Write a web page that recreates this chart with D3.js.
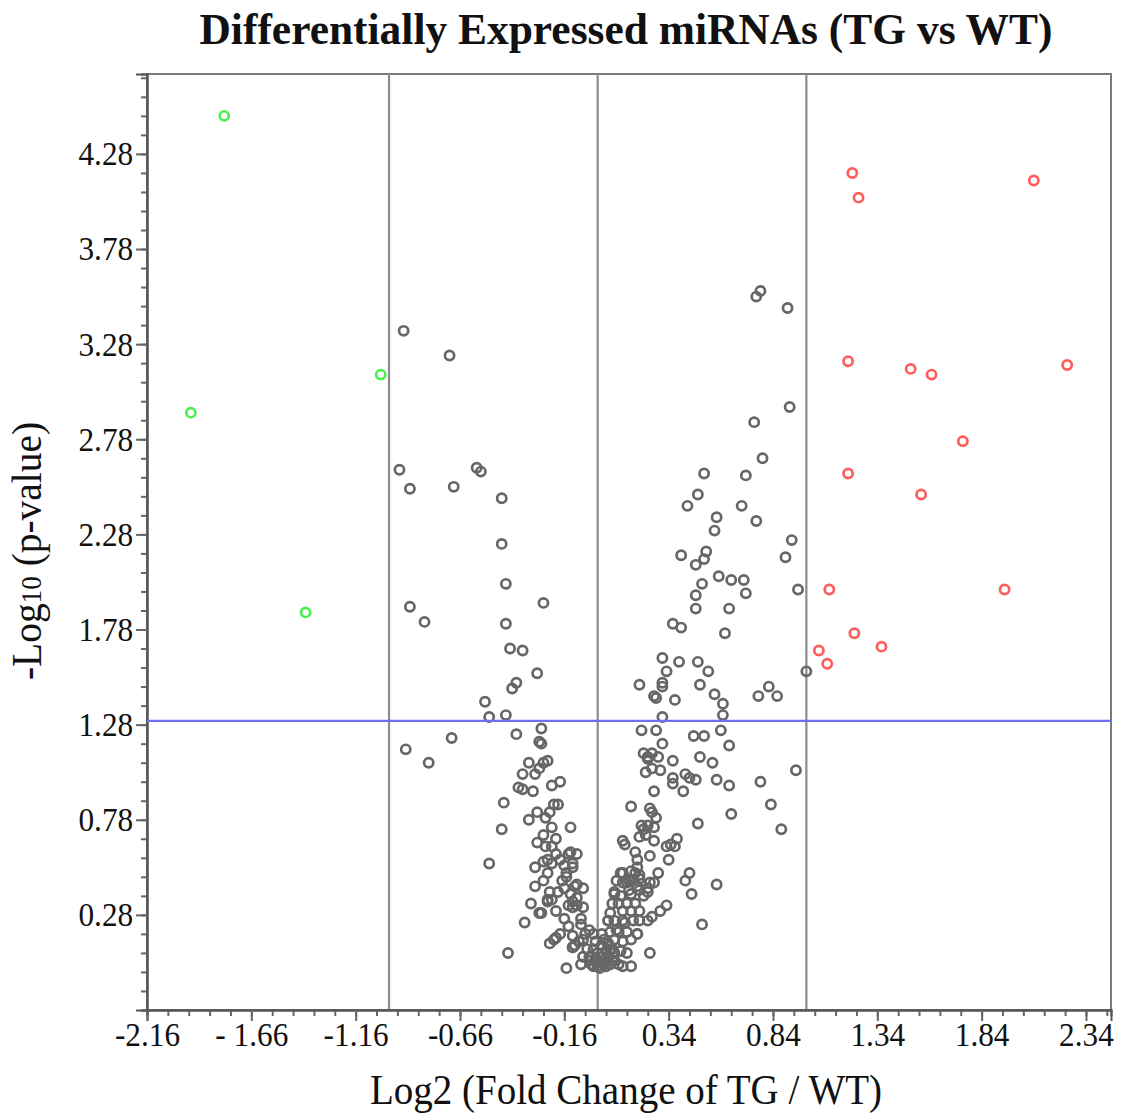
<!DOCTYPE html>
<html lang="en">
<head>
  <meta charset="UTF-8" />
  <title>Differentially Expressed miRNAs (TG vs WT)</title>
  <script src="https://d3js.org/d3.v7.min.js"></script>
  <style>
    body { margin: 0; background: #fff; }
    svg { display: block; }
    text { font-family: "Liberation Serif", "Times New Roman", serif; fill: #111; }
    .dot { fill: none; stroke-width: 2.7px; }
  </style>
</head>
<body>
  <svg width="1123" height="1120"></svg>

  <script>
    // log2 fold change, -log10 p-value
    const downRegulated = [
      [-1.79, 4.48], [-1.95, 2.92], [-1.04, 3.12], [-1.40, 1.87]
    ];

    const upRegulated = [
      [1.22, 4.18], [1.25, 4.05], [2.09, 4.14], [1.20, 3.19], [1.50, 3.15],
      [1.60, 3.12], [2.25, 3.17], [1.75, 2.77], [1.20, 2.60], [1.55, 2.49],
      [1.11, 1.99], [1.95, 1.99], [1.23, 1.76], [1.36, 1.69], [1.06, 1.67],
      [1.10, 1.60]
    ];

    const notSignificant = [
      // left, above threshold
      [-0.93, 3.35], [-0.71, 3.22], [-0.95, 2.62], [-0.90, 2.52], [-0.69, 2.53],
      [-0.58, 2.63], [-0.56, 2.61], [-0.46, 2.47], [-0.46, 2.23], [-0.44, 2.02],
      [-0.26, 1.92], [-0.90, 1.90], [-0.83, 1.82], [-0.44, 1.81], [-0.42, 1.68],
      [-0.36, 1.67], [-0.29, 1.55], [-0.41, 1.47], [-0.39, 1.50], [-0.54, 1.40],
      [-0.52, 1.32], [-0.44, 1.33],
      // left, below threshold
      [-0.27, 1.26], [-0.39, 1.23], [-0.28, 1.19], [-0.27, 1.18], [-0.70, 1.21],
      [-0.92, 1.15], [-0.81, 1.08], [-0.33, 1.08], [-0.36, 1.02], [-0.30, 1.02],
      [-0.28, 1.05], [-0.26, 1.08], [-0.24, 1.09], [-0.22, 0.96], [-0.18, 0.98],
      [-0.38, 0.95], [-0.36, 0.94], [-0.31, 0.93], [-0.45, 0.87], [-0.21, 0.86],
      [-0.19, 0.86], [-0.29, 0.82], [-0.33, 0.78], [-0.25, 0.79], [-0.23, 0.82],
      [-0.46, 0.73], [-0.22, 0.74], [-0.13, 0.74], [-0.29, 0.66], [-0.26, 0.70],
      [-0.22, 0.64], [-0.26, 0.56], [-0.30, 0.53], [-0.22, 0.55], [-0.18, 0.57],
      [-0.14, 0.60], [-0.13, 0.61], [-0.10, 0.60], [-0.16, 0.54], [-0.12, 0.53],
      [-0.52, 0.55], [-0.30, 0.43], [-0.26, 0.46], [-0.23, 0.40], [-0.24, 0.36],
      [-0.15, 0.48], [-0.16, 0.42], [-0.13, 0.39], [-0.10, 0.44], [-0.07, 0.42],
      [-0.12, 0.35], [-0.10, 0.33], [-0.14, 0.33], [-0.32, 0.34], [-0.28, 0.29],
      [-0.35, 0.24], [-0.23, 0.13], [-0.21, 0.15], [-0.18, 0.18], [-0.12, 0.11],
      [-0.11, 0.12], [-0.43, 0.08], [-0.15, 0.00], [-0.08, 0.02], [-0.25, 0.64],
      [-0.24, 0.57], [-0.20, 0.60], [-0.24, 0.50], [-0.15, 0.50], [-0.12, 0.55],
      [-0.11, 0.43], [-0.22, 0.36], [-0.24, 0.35], [-0.10, 0.37], [-0.12, 0.32],
      [-0.07, 0.32], [-0.27, 0.29], [-0.08, 0.26], [-0.08, 0.23], [-0.04, 0.20],
      [-0.02, 0.18], [-0.20, 0.16], [-0.12, 0.17], [-0.12, 0.11], [-0.07, 0.15],
      [-0.05, 0.10], [-0.07, 0.06], [-0.04, 0.04], [-0.02, 0.01], [0.04, 0.01],
      [0.06, 0.02], [-0.20, 0.68], [-0.17, 0.46], [-0.19, 0.40], [-0.20, 0.30],
      [-0.16, 0.26], [-0.14, 0.22], [-0.09, 0.14], [-0.06, 0.18],
      // centre
      [-0.01, 0.05], [0.01, 0.03], [0.00, 0.08], [0.02, 0.06], [-0.02, 0.10],
      [0.03, 0.02], [0.04, 0.09], [-0.03, 0.02], [0.00, 0.01], [0.02, 0.12],
      [-0.01, 0.14], [0.05, 0.05], [0.01, 0.00], [-0.04, 0.06], [0.06, 0.10],
      [0.03, 0.15], [0.07, 0.04], [0.05, 0.13], [0.08, 0.08], [0.02, 0.18],
      // right, above threshold
      [0.78, 3.56], [0.76, 3.53], [0.91, 3.47], [0.92, 2.95], [0.75, 2.87],
      [0.79, 2.68], [0.71, 2.59], [0.51, 2.60], [0.48, 2.49], [0.43, 2.43],
      [0.69, 2.43], [0.57, 2.37], [0.76, 2.35], [0.56, 2.30], [0.93, 2.25],
      [0.90, 2.16], [0.40, 2.17], [0.52, 2.19], [0.51, 2.15], [0.47, 2.12],
      [0.58, 2.06], [0.64, 2.04], [0.70, 2.04], [0.50, 2.02], [0.71, 1.97],
      [0.47, 1.96], [0.96, 1.99], [0.47, 1.89], [0.63, 1.89], [0.36, 1.81],
      [0.40, 1.79], [0.61, 1.76], [0.31, 1.63], [0.39, 1.61], [0.48, 1.61],
      [0.33, 1.56], [0.53, 1.56], [1.00, 1.56], [0.20, 1.49], [0.31, 1.50],
      [0.31, 1.48], [0.49, 1.49], [0.82, 1.48], [0.77, 1.43], [0.86, 1.43],
      [0.27, 1.43], [0.28, 1.42], [0.37, 1.41], [0.56, 1.44], [0.60, 1.39],
      [0.60, 1.33], [0.31, 1.32],
      // right, below threshold
      [0.59, 1.25], [0.63, 1.17], [0.46, 1.22], [0.51, 1.22], [0.21, 1.25],
      [0.28, 1.25], [0.31, 1.18], [0.22, 1.13], [0.24, 1.11], [0.26, 1.13],
      [0.24, 1.10], [0.29, 1.11], [0.36, 1.09], [0.49, 1.11], [0.55, 1.08],
      [0.23, 1.03], [0.26, 1.05], [0.30, 1.04], [0.36, 1.00], [0.36, 0.97],
      [0.42, 1.02], [0.44, 1.00], [0.47, 0.99], [0.41, 0.93], [0.57, 0.99],
      [0.63, 0.96], [0.78, 0.98], [0.83, 0.86], [0.88, 0.73], [0.95, 1.04],
      [0.27, 0.93], [0.16, 0.85], [0.25, 0.84], [0.26, 0.82], [0.28, 0.79],
      [0.48, 0.76], [0.64, 0.81], [0.21, 0.75], [0.22, 0.73], [0.24, 0.75],
      [0.27, 0.74], [0.23, 0.70], [0.20, 0.69], [0.27, 0.67], [0.12, 0.67],
      [0.13, 0.65], [0.33, 0.64], [0.35, 0.65], [0.38, 0.68], [0.37, 0.64],
      [0.18, 0.61], [0.19, 0.57], [0.25, 0.59], [0.34, 0.57], [0.19, 0.53],
      [0.20, 0.49], [0.29, 0.50], [0.44, 0.50], [0.42, 0.46], [0.45, 0.39],
      [0.57, 0.44], [0.12, 0.50], [0.09, 0.46], [0.14, 0.45], [0.17, 0.46],
      [0.08, 0.39], [0.11, 0.38], [0.16, 0.39], [0.20, 0.41], [0.22, 0.38],
      [0.25, 0.45], [0.24, 0.40], [0.07, 0.34], [0.10, 0.34], [0.14, 0.34],
      [0.18, 0.34], [0.20, 0.30], [0.16, 0.30], [0.12, 0.30], [0.33, 0.33],
      [0.30, 0.30], [0.26, 0.27], [0.06, 0.29], [0.05, 0.25], [0.08, 0.25],
      [0.12, 0.25], [0.17, 0.25], [0.20, 0.25], [0.06, 0.19], [0.10, 0.19],
      [0.14, 0.19], [0.19, 0.18], [0.50, 0.23], [0.25, 0.08], [0.10, 0.02],
      [0.12, 0.01], [0.16, 0.01], [0.11, 0.50], [0.16, 0.51], [0.18, 0.50],
      [0.20, 0.47], [0.15, 0.46], [0.12, 0.45], [0.08, 0.40], [0.15, 0.41],
      [0.19, 0.43], [0.24, 0.42], [0.27, 0.45], [0.05, 0.25], [0.13, 0.24],
      [0.24, 0.25], [0.09, 0.20], [0.19, 0.18], [0.16, 0.15], [0.12, 0.14],
      [0.08, 0.15], [0.05, 0.13], [0.07, 0.10], [0.11, 0.09], [0.14, 0.08],
      [0.05, 0.05], [0.08, 0.04]
    ];

    const xTicks = [-2.16, -1.66, -1.16, -0.66, -0.16, 0.34, 0.84, 1.34, 1.84, 2.34];
    const xTickLabels = ["-2.16", "- 1.66", "-1.16", "-0.66", "-0.16", "0.34", "0.84", "1.34", "1.84", "2.34"];
    const yTicks = [0.28, 0.78, 1.28, 1.78, 2.28, 2.78, 3.28, 3.78, 4.28];
    const foldCutoffs = [-1, 0, 1];
    const pCutoff = 1.3;

    const svg = d3.select("svg");
    const plotLeft = 147, plotRight = 1111, plotTop = 74, plotBottom = 1010;

    const x = d3.scaleLinear().domain([-2.16, 2.46]).range([plotLeft, plotRight]);
    const y = d3.scaleLinear().domain([-0.22, 4.70]).range([plotBottom, plotTop]);

    const xMinor = d3.range(0, 47).map(i => -2.16 + i * 0.1);
    const yMinor = d3.range(0, 50).map(i => -0.22 + i * 0.1);

    // frame
    svg.append("rect")
      .attr("x", plotLeft).attr("y", plotTop)
      .attr("width", plotRight - plotLeft).attr("height", plotBottom - plotTop)
      .attr("fill", "none").attr("stroke", "#7a7a7a").attr("stroke-width", 2);

    // cutoff lines
    svg.append("g").selectAll("line")
      .data(foldCutoffs)
      .join("line")
      .attr("x1", d => x(d)).attr("x2", d => x(d))
      .attr("y1", plotTop).attr("y2", plotBottom)
      .attr("stroke", "#8c8c8c").attr("stroke-width", 2.2);

    // axes
    const xAxisMinor = svg.append("g")
      .attr("transform", `translate(0,${plotBottom})`)
      .call(d3.axisBottom(x).tickValues(xMinor).tickSize(6).tickFormat(""));
    const xAxis = svg.append("g")
      .attr("transform", `translate(0,${plotBottom})`)
      .call(d3.axisBottom(x).tickValues(xTicks).tickSize(11).tickPadding(1)
        .tickFormat((d, i) => xTickLabels[i]));
    const yAxisMinor = svg.append("g")
      .attr("transform", `translate(${plotLeft},0)`)
      .call(d3.axisLeft(y).tickValues(yMinor).tickSize(6).tickFormat(""));
    const yAxis = svg.append("g")
      .attr("transform", `translate(${plotLeft},0)`)
      .call(d3.axisLeft(y).tickValues(yTicks).tickSize(11).tickPadding(4)
        .tickFormat(d3.format(".2f")));

    [xAxisMinor, xAxis, yAxisMinor, yAxis].forEach(g => {
      g.selectAll("line").attr("stroke", "#666").attr("stroke-width", 2);
      g.select(".domain").attr("stroke", "#555").attr("stroke-width", 2);
    });
    [xAxis, yAxis].forEach(g => {
      g.selectAll("text")
        .attr("font-size", 34).attr("font-family", "Liberation Serif")
        .attr("fill", "#111").attr("transform", "scale(0.92,1)");
    });

    // points
    const groups = [
      { data: notSignificant, color: "#666666" },
      { data: downRegulated, color: "#4cf04c" },
      { data: upRegulated, color: "#ff5c5c" }
    ];
    groups.forEach(gp => {
      svg.append("g").selectAll("circle")
        .data(gp.data)
        .join("circle")
        .attr("class", "dot")
        .attr("cx", d => x(d[0]))
        .attr("cy", d => y(d[1]))
        .attr("r", 4.6)
        .attr("stroke", gp.color);
    });

    // p-value cutoff
    svg.append("line")
      .attr("x1", plotLeft).attr("x2", plotRight)
      .attr("y1", y(pCutoff)).attr("y2", y(pCutoff))
      .attr("stroke", "#6f6ff5").attr("stroke-width", 2.4);

    // titles
    svg.append("text")
      .attr("x", 626).attr("y", 44)
      .attr("text-anchor", "middle")
      .attr("font-size", 44).attr("font-weight", "bold")
      .attr("textLength", 853).attr("lengthAdjust", "spacingAndGlyphs")
      .text("Differentially Expressed miRNAs (TG vs WT)");

    svg.append("text")
      .attr("x", 626).attr("y", 1104)
      .attr("text-anchor", "middle")
      .attr("font-size", 42)
      .attr("textLength", 512).attr("lengthAdjust", "spacingAndGlyphs")
      .text("Log2 (Fold Change of TG / WT)");

    const yLabel = svg.append("text")
      .attr("transform", "translate(41,551) rotate(-90)")
      .attr("text-anchor", "middle")
      .attr("font-size", 42)
      .attr("textLength", 258).attr("lengthAdjust", "spacingAndGlyphs");
    yLabel.append("tspan").text("-Log");
    yLabel.append("tspan").attr("font-size", 29).text("10");
    yLabel.append("tspan").text(" (p-value)");
  </script>
</body>
</html>
